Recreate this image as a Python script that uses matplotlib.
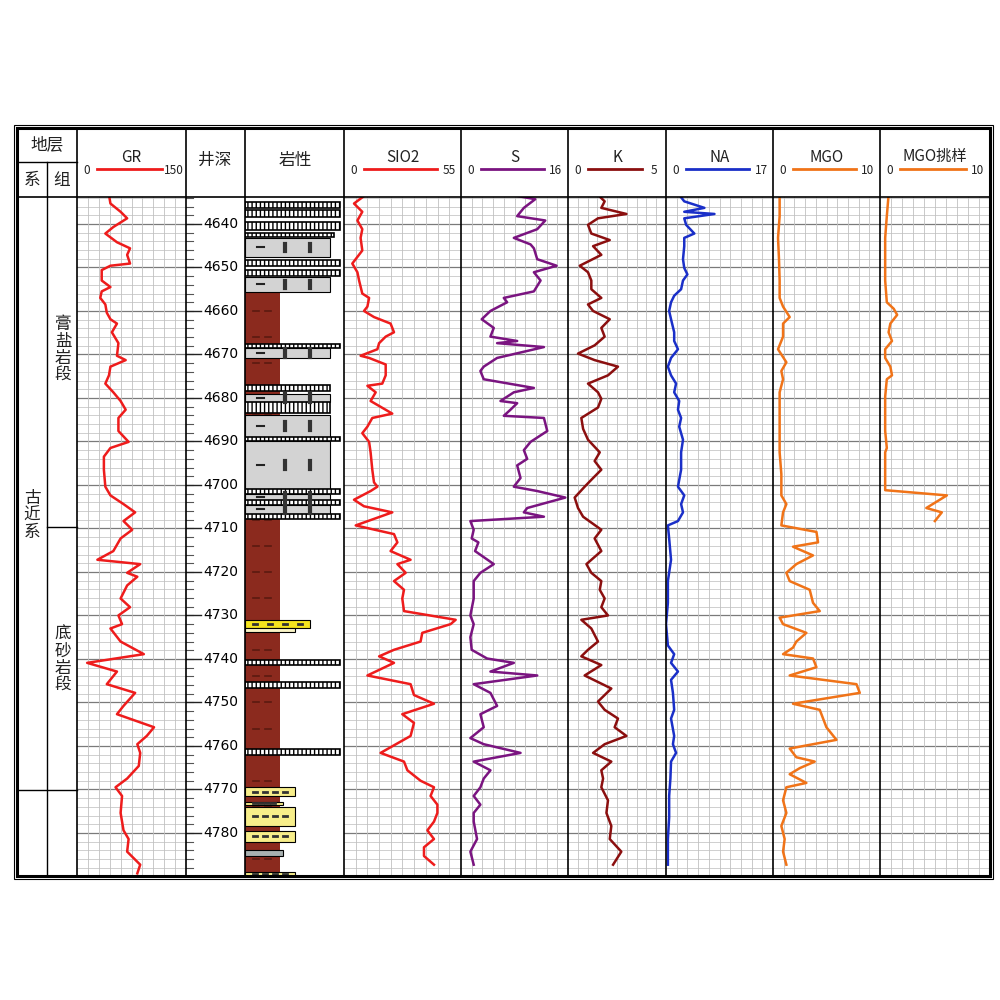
import numpy as np
import matplotlib
matplotlib.use("Agg")
import matplotlib.pyplot as plt
from matplotlib.patches import Rectangle

plt.rcParams['font.family'] = ['Noto Sans CJK SC', 'DejaVu Sans']

# ---------------- data ----------------
depth_top, depth_bot = 4633.8, 4789.9

gr_depth = [4633.3,4635.3,4637.2,4638.7,4640.7,4642.2,4644.2,4645.6,4647.1,4649.1,4649.6,4650.6,4653.0,4654.5,4655.5,4657.0,4658.5,4660.4,4661.9,4662.9,4664.9,4667.4,4670.3,4671.3,4672.8,4674.8,4676.7,4678.7,4680.7,4682.7,4684.6,4687.6,4690.1,4691.5,4693.5,4696.5,4700.4,4702.4,4704.4,4706.3,4708.3,4710.3,4712.3,4715.2,4717.2,4718.2,4720.2,4721.1,4723.1,4726.1,4728.1,4730.0,4732.0,4733.0,4736.0,4738.9,4740.9,4742.9,4745.8,4747.8,4750.8,4752.7,4755.7,4757.7,4759.6,4761.6,4764.6,4767.5,4769.5,4771.5,4775.4,4779.4,4781.4,4784.3,4787.3,4789.3]
gr_val = [44,46,60,69,50,39,55,73,69,73,46,34,34,46,34,32,39,41,46,55,48,57,55,67,46,44,39,50,60,67,57,57,71,46,37,37,39,46,64,80,64,76,60,50,28,87,69,83,69,60,73,57,62,46,60,92,14,55,41,80,64,55,106,96,83,87,85,69,53,62,60,64,71,69,87,83]

sio2_depth = [4633.3,4635.3,4637.2,4639.2,4641.2,4643.2,4646.1,4649.1,4651.1,4653.0,4656.0,4657.0,4659.0,4660.0,4661.4,4662.9,4664.9,4665.9,4667.4,4668.8,4670.3,4670.8,4672.3,4674.8,4676.7,4677.2,4678.7,4680.7,4683.6,4684.6,4686.6,4688.1,4690.1,4692.5,4696.5,4699.4,4700.4,4701.4,4703.4,4704.9,4706.3,4709.3,4711.3,4713.2,4715.2,4717.2,4718.2,4720.2,4722.1,4724.1,4726.1,4729.0,4731.0,4732.0,4734.0,4736.0,4737.9,4739.4,4740.9,4743.8,4745.8,4748.3,4750.3,4752.7,4754.7,4757.7,4761.6,4763.6,4765.6,4768.0,4769.5,4771.5,4773.5,4775.4,4777.4,4779.4,4781.4,4783.3,4785.3,4787.3]
sio2_val = [10.2,4.7,8.6,6.3,8.6,7.8,8.6,3.9,6.3,7.1,8.6,11.8,11.0,9.4,14.1,21.9,23.5,19.6,16.5,15.7,7.8,11.8,19.6,19.6,18.0,11.0,14.9,12.5,22.7,13.3,11.0,8.6,11.8,12.5,13.3,14.1,15.7,12.5,4.7,9.4,22.7,5.5,23.5,25.1,21.9,31.3,25.1,29.0,23.5,28.2,27.4,28.2,52.5,50.1,36.8,36.0,23.5,16.5,23.5,11.0,31.3,32.9,42.3,27.4,32.9,31.3,17.2,28.2,29.8,36.0,42.3,40.7,43.9,43.9,42.3,39.2,42.3,37.6,37.6,42.3]

s_depth = [4633.3,4634.3,4636.3,4638.2,4639.2,4641.2,4643.2,4644.7,4645.6,4648.1,4649.6,4651.1,4653.0,4655.5,4657.0,4658.0,4660.0,4661.9,4663.9,4665.9,4666.9,4667.4,4668.3,4670.8,4672.8,4673.8,4675.7,4677.7,4678.7,4680.7,4681.2,4682.7,4684.1,4684.6,4687.6,4690.1,4692.0,4694.0,4695.5,4698.4,4700.4,4701.4,4702.9,4705.3,4706.3,4707.3,4708.3,4710.3,4712.3,4713.2,4715.2,4718.2,4720.2,4722.1,4726.1,4730.0,4732.0,4735.0,4737.9,4739.9,4740.9,4742.9,4743.8,4745.8,4747.8,4750.8,4752.7,4755.7,4758.2,4759.6,4761.6,4763.6,4765.6,4767.5,4769.5,4771.5,4773.5,4775.4,4777.4,4781.4,4784.3,4787.3]
s_val = [7.4,11.1,9.4,8.4,12.6,11.4,7.9,10.4,10.9,11.4,14.3,10.9,11.9,10.9,6.4,6.9,4.4,3.1,4.9,4.4,8.4,5.4,12.4,5.4,3.4,2.9,3.4,10.9,7.9,5.9,8.4,7.4,6.4,12.4,12.9,10.4,9.4,9.9,8.4,8.9,7.9,11.4,15.6,9.9,9.4,12.4,1.4,1.9,1.6,2.6,2.1,4.9,2.9,1.9,1.9,1.4,1.9,1.4,1.6,3.9,7.9,4.4,11.4,1.9,4.4,5.4,2.9,3.4,1.4,3.4,8.9,1.9,4.4,3.4,2.9,1.9,2.9,1.9,1.9,2.4,1.4,1.9]

k_depth = [4633.3,4634.8,4636.3,4637.7,4638.7,4640.2,4642.2,4643.7,4645.1,4647.1,4649.6,4651.1,4653.0,4655.0,4657.0,4658.5,4660.0,4661.9,4663.9,4665.9,4667.9,4669.8,4671.3,4672.8,4674.8,4676.7,4678.7,4680.2,4682.2,4684.6,4687.1,4689.6,4692.5,4694.5,4696.5,4698.4,4700.4,4702.9,4705.3,4707.3,4710.3,4712.3,4715.2,4718.2,4720.2,4722.1,4724.1,4726.1,4728.1,4730.0,4731.0,4733.0,4736.0,4737.9,4739.4,4741.4,4743.8,4746.8,4749.8,4751.7,4753.7,4755.7,4757.7,4759.6,4761.6,4763.6,4765.6,4767.5,4769.5,4772.5,4775.4,4778.4,4781.4,4784.3,4787.3]
k_val = [1.53,1.87,1.70,2.98,1.53,1.02,1.19,2.13,1.28,1.70,0.60,1.02,1.19,1.19,1.70,1.02,1.28,2.13,1.70,1.87,1.36,0.51,1.36,2.55,2.04,1.02,1.53,1.70,1.53,0.68,0.77,1.02,1.62,1.36,1.70,1.28,0.85,0.34,0.51,0.77,1.70,1.36,1.70,0.94,1.19,1.70,1.62,1.87,1.70,2.04,0.68,1.19,1.53,1.02,0.68,1.70,0.85,2.21,1.53,1.87,2.55,2.38,2.98,1.87,1.28,2.21,1.70,1.79,1.70,2.04,1.96,2.21,2.13,2.72,2.30]

na_depth = [4633.3,4634.8,4636.3,4637.2,4637.7,4638.7,4640.2,4642.2,4643.2,4645.1,4648.1,4650.1,4651.6,4653.0,4655.0,4656.5,4658.0,4660.0,4661.9,4664.9,4666.9,4668.8,4670.8,4672.8,4674.8,4676.7,4678.7,4680.7,4682.7,4684.6,4686.6,4689.6,4692.5,4696.5,4700.4,4702.4,4704.4,4706.3,4708.3,4709.3,4712.3,4717.2,4722.1,4727.1,4732.0,4736.9,4738.9,4740.9,4742.9,4744.8,4747.8,4751.7,4753.7,4757.7,4759.6,4761.6,4763.6,4767.5,4771.5,4776.4,4781.4,4787.3]
na_val = [2.1,2.9,6.1,2.9,7.7,2.9,3.2,4.5,2.9,2.9,2.7,2.9,3.4,2.7,2.4,1.3,0.8,0.5,0.8,1.3,1.3,1.9,0.8,0.3,0.8,1.6,1.3,2.1,1.9,2.4,2.1,2.7,2.4,2.4,1.9,2.9,2.4,2.7,1.9,0.3,0.5,0.8,0.3,0.3,0.0,0.3,1.3,0.8,1.9,0.8,1.1,1.3,0.8,1.3,1.1,1.6,0.8,0.7,0.5,0.5,0.3,0.3]

mgo_depth = [4633.3,4638.2,4643.2,4648.1,4653.0,4657.0,4659.0,4661.4,4662.9,4665.9,4668.8,4671.8,4673.8,4675.7,4678.7,4682.7,4687.6,4692.5,4697.5,4702.4,4704.4,4706.3,4709.3,4710.8,4713.2,4714.2,4716.2,4718.2,4720.2,4722.1,4724.1,4727.1,4729.0,4730.5,4732.0,4734.0,4736.0,4737.4,4738.9,4739.9,4741.9,4743.8,4745.8,4747.8,4750.3,4751.7,4753.7,4755.7,4758.6,4760.6,4762.6,4763.6,4765.1,4766.5,4768.5,4769.5,4772.5,4775.4,4778.4,4781.4,4784.3,4787.3]
mgo_val = [0.62,0.62,0.47,0.56,0.62,0.62,0.94,1.56,0.94,0.94,0.47,1.25,0.78,0.94,0.62,0.62,0.62,0.62,0.78,0.78,1.25,0.94,0.78,4.06,4.21,1.87,3.74,2.18,1.25,1.56,3.43,3.74,4.37,0.62,0.94,3.12,2.18,1.87,0.94,3.74,4.06,1.56,7.80,8.11,1.87,4.37,4.68,4.99,5.93,1.56,2.18,3.90,2.50,1.56,3.12,1.25,0.94,1.25,0.78,1.09,0.94,1.25]

mgos_depth = [4633.3,4638.2,4643.2,4648.1,4653.0,4658.0,4659.5,4660.9,4662.9,4664.9,4666.9,4668.8,4670.8,4672.8,4674.8,4675.7,4679.7,4687.6,4691.5,4692.5,4700.4,4701.2,4702.4,4705.3,4706.3,4708.3]
mgos_val = [0.78,0.62,0.47,0.47,0.47,0.62,1.25,1.56,0.94,0.78,1.09,0.47,0.47,0.94,1.09,0.62,0.47,0.47,0.62,0.47,0.47,0.47,6.08,4.21,5.62,4.99]

# lithology intervals: top, bottom, type, extent (right edge fraction of track)
lith_top = [4634.9,4636.8,4639.5,4642.0,4643.2,4648.3,4650.6,4652.2,4655.9,4667.5,4668.4,4677.0,4679.0,4681.0,4684.0,4689.0,4690.0,4701.0,4702.0,4703.4,4704.6,4706.6,4731.0,4733.0,4740.2,4745.4,4760.8,4769.5,4772.8,4774.0,4779.6,4783.9,4789.0]
lith_bot = [4636.3,4638.4,4641.4,4643.0,4647.6,4649.7,4652.0,4655.6,4789.9,4668.4,4670.8,4678.5,4681.0,4683.5,4689.0,4690.0,4701.0,4702.0,4703.4,4704.6,4706.6,4707.8,4733.0,4733.9,4741.5,4746.7,4762.0,4771.5,4773.6,4778.4,4782.0,4785.3,4789.9]
lith_type = ['salt','salt','salt','salt','gyp','salt','salt','gyp','mud','salt','gyp','salt','gyp','salt','gyp','salt','gyp','salt','gyp','salt','gyp','salt','sand','sandw','salt','salt','salt','psand','psand','psand','psand','gray','psand']
lith_ext = [0.96,0.96,0.96,0.90,0.86,0.96,0.96,0.86,0.35,0.96,0.86,0.86,0.86,0.86,0.86,0.96,0.86,0.96,0.86,0.96,0.86,0.96,0.66,0.50,0.96,0.96,0.96,0.50,0.38,0.50,0.50,0.38,0.50]

tracks = [
    ("GR", 150, gr_depth, gr_val, "#ee1c1c", 77, 186),
    ("SIO2", 55, sio2_depth, sio2_val, "#ee1c1c", 344, 461),
    ("S", 16, s_depth, s_val, "#7a1480", 461, 568),
    ("K", 5, k_depth, k_val, "#8b0f0f", 568, 666),
    ("NA", 17, na_depth, na_val, "#1a2fc8", 666, 773),
    ("MGO", 10, mgo_depth, mgo_val, "#f07318", 773, 880),
    ("MGO挑样", 10, mgos_depth, mgos_val, "#f07318", 880, 990),
]

# ---------------- figure ----------------
W = H = 1000
fig = plt.figure(figsize=(10, 10), dpi=100)
Y0, Y1 = 197, 876

def add_track(x0, x1):
    ax = fig.add_axes([x0 / W, 1 - Y1 / H, (x1 - x0) / W, (Y1 - Y0) / H])
    ax.set_ylim(depth_bot, depth_top)
    ax.set_xticks([]); ax.set_yticks([])
    for s in ax.spines.values():
        s.set_visible(False)
    return ax

grid_minor = np.arange(4634, 4790, 2)
grid_major = np.arange(4640, 4790, 10)

for name, vmax, dep, val, col, x0, x1 in tracks:
    ax = add_track(x0, x1)
    ax.set_xlim(0, vmax)
    for d in grid_minor:
        ax.axhline(d, color="#c8c8c8", lw=0.6, zorder=0)
    for d in grid_major:
        ax.axhline(d, color="#7a7a7a", lw=0.9, zorder=0)
    for v in np.linspace(0, vmax, 11)[1:-1]:
        ax.axvline(v, color="#c0c0c0", lw=0.6, zorder=0)
    ax.plot(val, dep, color=col, lw=1.8, zorder=3)

# depth track
axd = add_track(186, 245)
axd.set_xlim(0, 1)
for d in np.arange(4634, 4790, 2):
    axd.plot([0, 0.12], [d, d], color="#555", lw=0.8)
for d in grid_major:
    axd.plot([0, 0.25], [d, d], color="#222", lw=1.0)
    axd.text(0.3, d, str(d), ha="left", va="center", fontsize=10, family="DejaVu Sans")

# lithology track
axl = add_track(245, 344)
axl.set_xlim(0, 1)
colors = {"mud": "#8b2a1e", "gyp": "#d3d3d3", "sand": "#f5e51e", "psand": "#f7ee8a",
          "sandw": "#fbf6c8", "gray": "#a8b0b0", "salt": "white"}
order = sorted(range(len(lith_top)), key=lambda i: lith_type[i] != "mud")
for i in order:
    t = lith_type[i]
    x0 = 0.0
    rect = Rectangle((x0, lith_top[i]), lith_ext[i] - x0, lith_bot[i] - lith_top[i],
                     facecolor=colors[t], edgecolor="black" if t != "mud" else "none",
                     lw=1.2 if t == "salt" else 0.8,
                     hatch="||||" if t == "salt" else None, zorder=2 if t == "mud" else 3)
    axl.add_patch(rect)
    if t in ("sand", "psand"):
        mid = (lith_top[i] + lith_bot[i]) / 2
        for xx in np.linspace(x0 + 0.1, lith_ext[i] - 0.1, 4):
            axl.plot([xx - 0.02, xx + 0.02], [mid, mid], color="#333", lw=2, zorder=4)
    if t == "gyp":
        mid = (lith_top[i] + lith_bot[i]) / 2
        axl.plot([0.12, 0.19], [mid, mid], color="#222", lw=1.5, zorder=4)
        for xx in (0.40, 0.66):
            axl.plot([xx, xx], [mid - 0.9, mid + 0.9], color="#333", lw=3, zorder=4)
    if t == "mud":
        for d in np.arange(4660, 4789, 6):
            axl.plot([0.08, 0.14], [d, d], color="#5a1a10", lw=1.2, zorder=2.5)
            axl.plot([0.20, 0.26], [d, d], color="#5a1a10", lw=1.2, zorder=2.5)

# ---------------- frame & header overlay ----------------
ov = fig.add_axes([0, 0, 1, 1], zorder=10)
ov.set_xlim(0, W); ov.set_ylim(H, 0); ov.axis("off")
ov.add_patch(Rectangle((17, 128), 973, 748, fill=False, lw=2.2, ec="black"))
ov.add_patch(Rectangle((14, 125), 979, 754, fill=False, lw=0.8, ec="black"))
ov.plot([17, 990], [197, 197], color="black", lw=1.2)
ov.plot([17, 77], [162, 162], color="black", lw=1.0)
for x in (77, 186, 245, 344, 461, 568, 666, 773, 880):
    ov.plot([x, x], [128, 876], color="black", lw=1.2)
ov.plot([47, 47], [162, 876], color="black", lw=1.0)
ov.plot([47, 77], [527, 527], color="black", lw=1.0)
ov.plot([17, 77], [790, 790], color="black", lw=1.0)

cjk = dict(family=["Noto Sans CJK SC", "DejaVu Sans"], color="#222")
ov.text(47, 145, "地层", ha="center", va="center", fontsize=12, **cjk)
ov.text(32, 180, "系", ha="center", va="center", fontsize=12, **cjk)
ov.text(62, 180, "组", ha="center", va="center", fontsize=12, **cjk)
ov.text(215, 160, "井深", ha="center", va="center", fontsize=12, **cjk)
ov.text(295, 160, "岩性", ha="center", va="center", fontsize=12, **cjk)
ov.text(63, 350, "膏\n盐\n岩\n段", ha="center", va="center", fontsize=12, linespacing=1.0, **cjk)
ov.text(63, 660, "底\n砂\n岩\n段", ha="center", va="center", fontsize=12, linespacing=1.0, **cjk)
ov.text(32, 515, "古\n近\n系", ha="center", va="center", fontsize=12, linespacing=1.0, **cjk)

for name, vmax, dep, val, col, x0, x1 in tracks:
    cx = (x0 + x1) / 2
    ov.text(cx, 157, name, ha="center", va="center", fontsize=11, **cjk)
    ov.plot([x0 + 20, x1 - 24], [169, 169], color=col, lw=2)
    ov.text(x0 + 10, 170, "0", ha="center", va="center", fontsize=8.5, color="#222")
    ov.text(x1 - 12, 170, str(vmax), ha="center", va="center", fontsize=8.5, color="#222")

fig.savefig("out.png", dpi=100, facecolor="white")
